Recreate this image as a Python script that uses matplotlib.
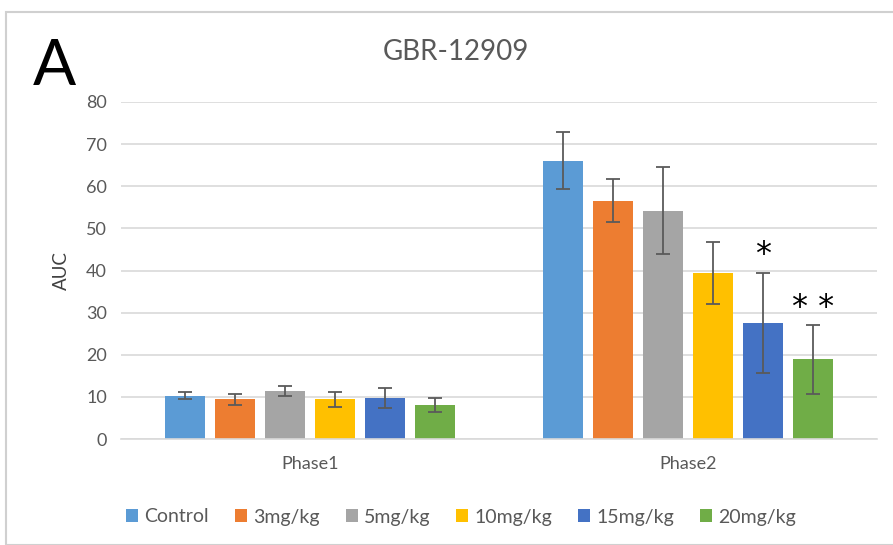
import matplotlib
matplotlib.use("Agg")
import matplotlib.pyplot as plt
import numpy as np
from matplotlib.patches import Rectangle, Patch

plt.rcParams['font.family'] = ['Lato', 'DejaVu Sans']

categories = ["Phase1", "Phase2"]
series = ["Control", "3mg/kg", "5mg/kg", "10mg/kg", "15mg/kg", "20mg/kg"]
colors = ["#5B9BD5", "#ED7D31", "#A5A5A5", "#FFC000", "#4472C4", "#70AD47"]
means = {
    "Control": [10.3, 66.1],
    "3mg/kg": [9.4, 56.6],
    "5mg/kg": [11.4, 54.2],
    "10mg/kg": [9.4, 39.4],
    "15mg/kg": [9.7, 27.6],
    "20mg/kg": [8.1, 18.9],
}
errors = {
    "Control": [0.9, 6.7],
    "3mg/kg": [1.4, 5.2],
    "5mg/kg": [1.1, 10.3],
    "10mg/kg": [1.7, 7.3],
    "15mg/kg": [2.4, 11.9],
    "20mg/kg": [1.7, 8.1],
}
signif = {"15mg/kg": [None, "*"], "20mg/kg": [None, "* *"]}
yticks = [0, 10, 20, 30, 40, 50, 60, 70, 80]

fig = plt.figure(figsize=(8.93, 5.45), dpi=100)
ax = fig.add_axes([121/893, 1-439/545, (877-121)/893, (439-102)/545])

x = np.arange(len(categories))
step = 0.1325
width = 0.106
tickc = "#595959"
for i, s in enumerate(series):
    pos = x + (i - 2.5) * step
    ax.bar(pos, means[s], width=width, color=colors[i], zorder=2)
    ax.errorbar(pos, means[s], yerr=errors[s], fmt='none', ecolor="#5a5a5a",
                elinewidth=1.3, capsize=5, capthick=1.3, zorder=3)
    if s in signif:
        for j, lab in enumerate(signif[s]):
            if lab:
                ax.text(pos[j], means[s][j] + errors[s][j] + 4.2, lab,
                        ha='center', va='center', fontsize=23, color='black',
                        family='DejaVu Sans')

ax.set_xlim(-0.5, 1.5)
ax.set_ylim(0, 80)
ax.set_yticks(yticks)
ax.set_xticks(x)
ax.set_xticklabels(categories)
ax.yaxis.grid(True, color="#D9D9D9", linewidth=1.2, zorder=0)
ax.set_axisbelow(True)
for sp in ["top", "right", "left"]:
    ax.spines[sp].set_visible(False)
ax.spines["bottom"].set_color("#D9D9D9")
ax.spines["bottom"].set_linewidth(1.2)
ax.tick_params(axis='both', length=0, labelsize=13, colors=tickc, pad=10)
ax.tick_params(axis='x', pad=12)
ax.set_ylabel("AUC", fontsize=13.5, color="#404040", labelpad=12)

fig.text(456/893, 1-52/545, "GBR-12909", ha='center', va='center', fontsize=20, color="#595959")
fig.text(54/893, 1-67/545, "A", ha='center', va='center', fontsize=46, color="black")

handles = [Patch(facecolor=c, edgecolor='none') for c in colors]
fig.legend(handles, series, loc='center', bbox_to_anchor=(461/893, 1-517/545), ncol=6,
           frameon=False, fontsize=14, labelcolor=tickc, handlelength=0.62,
           handleheight=0.62, handletextpad=0.3, columnspacing=1.35)

fig.patches.append(Rectangle((6/893, 0), 1, 1-12/545, transform=fig.transFigure,
                             fill=False, edgecolor="#D0D0D0", linewidth=1.5))

fig.savefig("out.png", dpi=100)
